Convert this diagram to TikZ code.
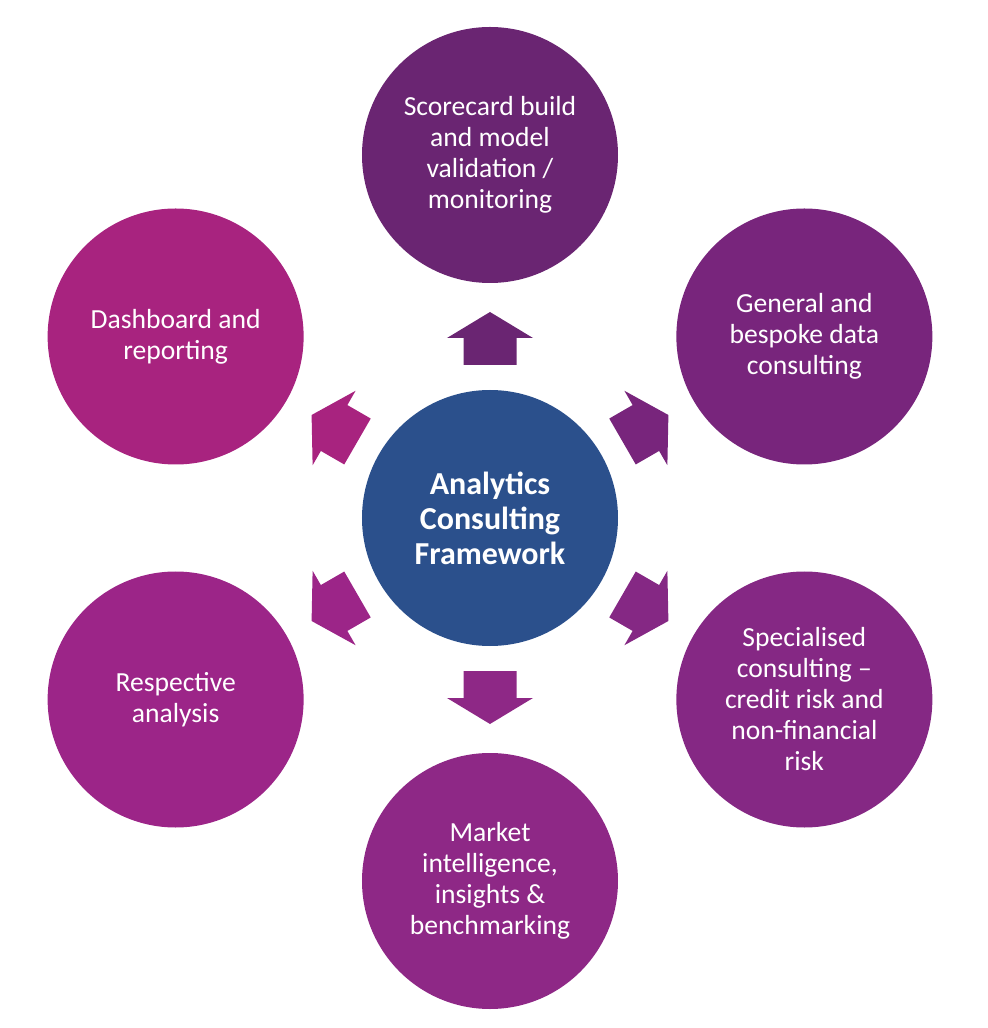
\documentclass[tikz,border=0pt]{standalone}
\usepackage{fontspec}
\setmainfont{Carlito}
\usepackage{tikz}
\definecolor{hubblue}{HTML}{2B508C}
\definecolor{plumA}{HTML}{6A2572}
\definecolor{plumB}{HTML}{78257C}
\definecolor{plumC}{HTML}{852884}
\definecolor{plumD}{HTML}{8E2886}
\definecolor{plumE}{HTML}{9C2588}
\definecolor{plumF}{HTML}{A8237F}
\tikzstyle{hub} = [circle, minimum size=128pt, inner sep=0pt, fill=hubblue, text=white, align=center, font=\fontsize{16}{17.5}\selectfont\bfseries]
\tikzstyle{spoke} = [circle, minimum size=128pt, inner sep=0pt, text=white, align=center, font=\fontsize{13.8}{15.5}\selectfont]

\begin{document}
\begin{tikzpicture}[x=0.5pt, y=0.5pt]
			\useasboundingbox (-490,-510) rectangle (497,518);
			\node (hub) [hub] at (0,0) {Analytics\\Consulting\\Framework};
			\node (score) [spoke, fill=plumA] at (90:363) {Scorecard build\\and model\\validation /\\monitoring};
			\node (bespoke) [spoke, fill=plumB] at (30:363) {General and\\bespoke data\\consulting};
			\node (special) [spoke, fill=plumC] at (-30:363) {Specialised\\consulting --\\credit risk and\\non-financial\\risk};
			\node (market) [spoke, fill=plumD] at (-90:363) {Market\\intelligence,\\insights \&\\benchmarking};
			\node (respect) [spoke, fill=plumE] at (-150:363) {Respective\\analysis};
			\node (dash) [spoke, fill=plumF] at (150:363) {Dashboard and\\reporting};
			
			% block arrows from the hub towards each circle
			\foreach \a/\c in {90/plumA, 30/plumB, -30/plumC, -90/plumD, -150/plumE, 150/plumF}
				\fill [\c, shift={(hub.center)}, rotate=\a] (153,-26.5) -- (180,-26.5) -- (180,-43) -- (206,0) -- (180,43) -- (180,26.5) -- (153,26.5) -- cycle;
		\end{tikzpicture}
\end{document}
